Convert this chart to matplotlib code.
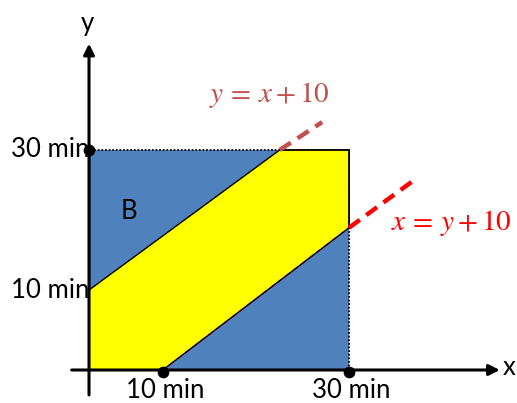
import matplotlib
matplotlib.use("Agg")
import matplotlib.pyplot as plt
from matplotlib.patches import Polygon, Rectangle

plt.rcParams['mathtext.fontset'] = 'stix'

# data (minutes)
square_max = 30
lower_start_x = 8.5       # lower boundary x = y + 10 meets x-axis
lower_end_y = 19.4        # lower boundary meets x = 30
upper_start_y = 10.9      # upper boundary y = x + 10 meets y-axis
upper_end_x = 22.0        # upper boundary meets y = 30
upper_dash_end = (26.9, 33.8)
lower_dash_end = (37.4, 25.8)
x_tick_vals = [8.5, 30]
x_tick_labels = ["10 min", "30 min"]
y_tick_vals = [10.9, 30]
y_tick_labels = ["10 min", "30 min"]

fig = plt.figure(figsize=(5.17, 4.03), dpi=100)
ax = fig.add_axes([0, 0, 1, 1])
ax.set_xlim(-10.27, 49.38)
ax.set_ylim(-4.5, 50.45)
ax.axis('off')

blue = '#4f81bd'
ax.add_patch(Rectangle((0, 0), square_max, square_max, facecolor=blue,
                       edgecolor='black', linestyle=(0, (1, 1)), linewidth=1.3, zorder=1))
band = [(0, 0), (lower_start_x, 0), (square_max, lower_end_y), (square_max, square_max),
        (upper_end_x, square_max), (0, upper_start_y)]
ax.add_patch(Polygon(band, closed=True, facecolor='#ffff00', edgecolor='none', zorder=2))
ax.plot([lower_start_x, square_max], [0, lower_end_y], color='black', lw=1, zorder=3)
ax.plot([0, upper_end_x], [upper_start_y, square_max], color='black', lw=1, zorder=3)
ax.plot([square_max, square_max], [lower_end_y, square_max], color='black', lw=1.3, zorder=3)
ax.plot([upper_end_x, square_max], [square_max, square_max], color='black', lw=1.3, zorder=3)
ax.plot([0, 0], [upper_start_y, square_max], color='black', lw=1, zorder=3)
# thin red dashes along the lower boundary
ax.plot([lower_start_x + 0.8, square_max], [0.7, lower_end_y], color='red', lw=1,
        linestyle=(0, (4, 3)), zorder=2.5)

# dashed extensions
ax.plot([upper_end_x, upper_dash_end[0]], [square_max, upper_dash_end[1]],
        color='#c0504d', lw=3.2, linestyle=(0, (3, 1.8)), zorder=3)
ax.plot([square_max, lower_dash_end[0]], [lower_end_y, lower_dash_end[1]],
        color='red', lw=3.2, linestyle=(0, (3, 1.8)), zorder=3)

# axes arrows
ax.annotate('', xy=(47.4, 0), xytext=(-2.0, 0),
            arrowprops=dict(arrowstyle='-|>', lw=2.2, color='black',
                            mutation_scale=16, shrinkA=0, shrinkB=0), zorder=4)
ax.annotate('', xy=(0, 44.5), xytext=(0, -3.4),
            arrowprops=dict(arrowstyle='-|>', lw=2.2, color='black',
                            mutation_scale=16, shrinkA=0, shrinkB=0), zorder=4)

fnt = 'Lato'
fs = 18.5
ax.scatter([x_tick_vals[0], x_tick_vals[1], 0], [-0.3, -0.3, y_tick_vals[1]],
           s=55, color='black', zorder=5)
for v, t in zip(x_tick_vals, x_tick_labels):
    ax.text(v + 0.3, -1.15, t, ha='center', va='top', fontsize=fs, family=fnt)
for v, t in zip(y_tick_vals, y_tick_labels):
    ax.text(0.1, v, t, ha='right', va='center', fontsize=fs, family=fnt)

ax.text(-0.2, 47.3, 'y', ha='center', va='center', fontsize=fs, family=fnt)
ax.text(48.5, 0.3, 'x', ha='center', va='center', fontsize=fs, family=fnt)
ax.text(4.6, 21.6, 'B', ha='center', va='center', fontsize=fs, family=fnt)

ax.text(13.9, 37.5, r'$y\,=\,x + 10$', color='#c0504d', fontsize=21, ha='left', va='center')
ax.text(34.8, 20.0, r'$x\,=\,y + 10$', color='red', fontsize=21, ha='left', va='center')

fig.savefig('out.png', dpi=100)
